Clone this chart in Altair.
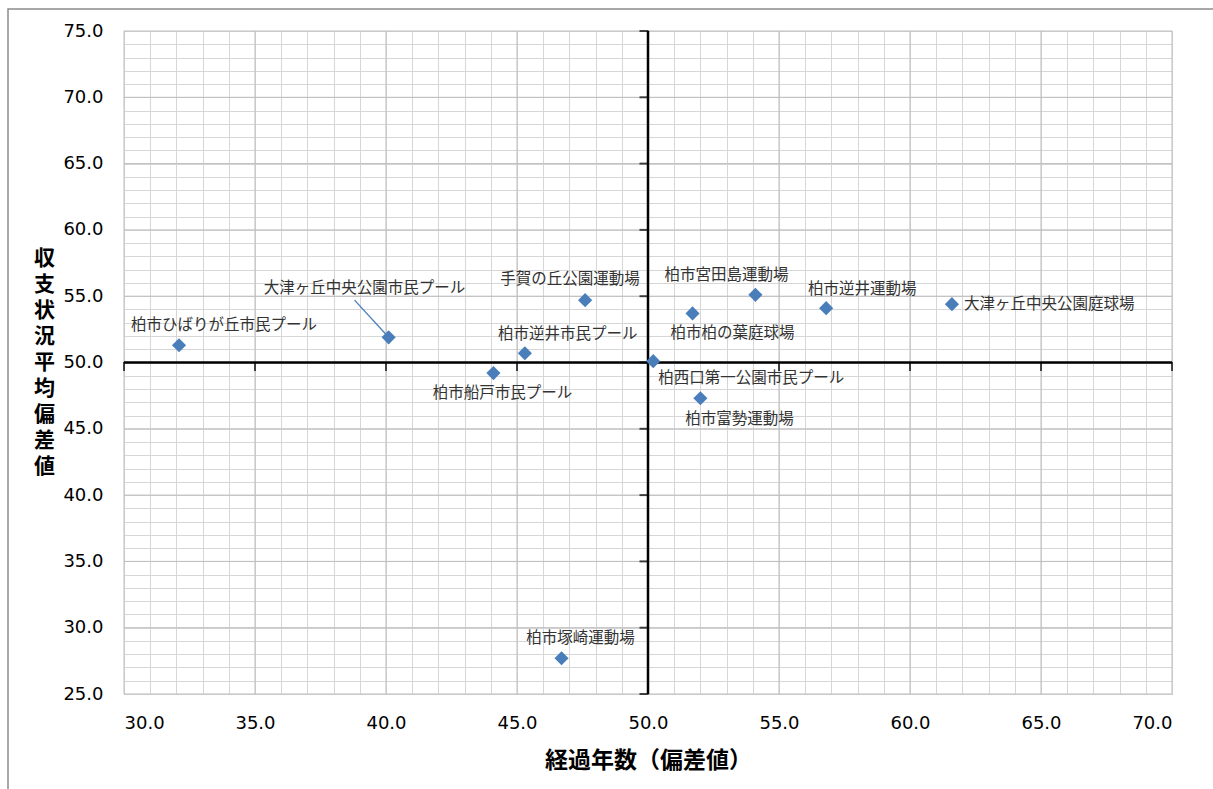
import altair as alt
import pandas as pd

# ---- data ----
names = [
    "柏市ひばりが丘市民プール",
    "大津ヶ丘中央公園市民プール",
    "柏市船戸市民プール",
    "柏市逆井市民プール",
    "手賀の丘公園運動場",
    "柏西口第一公園市民プール",
    "柏市柏の葉庭球場",
    "柏市富勢運動場",
    "柏市宮田島運動場",
    "柏市逆井運動場",
    "大津ヶ丘中央公園庭球場",
    "柏市塚崎運動場",
]
years_dev = [32.1, 40.1, 44.1, 45.3, 47.6, 50.2, 51.7, 52.0, 54.1, 56.8, 61.6, 46.7]
balance_dev = [51.3, 51.9, 49.2, 50.7, 54.7, 50.1, 53.7, 47.3, 55.1, 54.1, 54.4, 27.7]

x_ticks = [30, 35, 40, 45, 50, 55, 60, 65, 70]
y_ticks = [25, 30, 35, 40, 45, 50, 55, 60, 65, 70, 75]
x_minor = list(range(30, 71))
y_minor = list(range(25, 76))

# leader line of one label (data units)
leader_name = ["大津ヶ丘中央公園市民プール"]
leader_x2 = [38.8]
leader_y2 = [54.7]

# ---- styles ----
label_style = {
    "柏市ひばりが丘市民プール": (-48, -20, "left"),
    "大津ヶ丘中央公園市民プール": (-24, -49, "center"),
    "柏市船戸市民プール": (9, 20, "center"),
    "柏市逆井市民プール": (43, -19, "center"),
    "手賀の丘公園運動場": (-15, -21, "center"),
    "柏西口第一公園市民プール": (5, 17, "left"),
    "柏市柏の葉庭球場": (40, 20, "center"),
    "柏市富勢運動場": (39, 21, "center"),
    "柏市宮田島運動場": (-29, -20, "center"),
    "柏市逆井運動場": (36, -19, "center"),
    "大津ヶ丘中央公園庭球場": (12, 0, "left"),
    "柏市塚崎運動場": (19, -20, "center"),
}

df = pd.DataFrame({"name": names, "x": years_dev, "y": balance_dev})
lead_df = pd.DataFrame({"name": leader_name, "x2": leader_x2, "y2": leader_y2}).merge(df, on="name")
xt_df = pd.DataFrame({"v": x_ticks})
yt_df = pd.DataFrame({"v": y_ticks})
cross_df = pd.DataFrame({"v": [50]})

xs = alt.Scale(domain=[30, 70], nice=False, zero=False)
ys = alt.Scale(domain=[25, 75], nice=False, zero=False)

MARK_COLOR = "#4a7ebb"
LABEL_FONT = "Noto Sans CJK JP"
MINOR_GRID = "#d6d6d6"
MAJOR_GRID = "#bdbdbd"

x_axis = alt.Axis(
    values=x_minor,
    labelExpr="datum.value % 5 == 0 ? format(datum.value, '.1f') : ''",
    grid=True, gridColor=MINOR_GRID, gridWidth=1,
    ticks=False, domain=False,
    labelFont="DejaVu Sans", labelFontSize=18, labelColor="#000000", labelPadding=20,
    title="経過年数（偏差値）", titleFont=LABEL_FONT, titleFontSize=23, titleFontWeight="bold",
    titleColor="#000000", titleX=524, titleY=66, titleBaseline="middle",
)
y_axis = alt.Axis(
    values=y_minor,
    labelExpr="datum.value % 5 == 0 ? format(datum.value, '.1f') : ''",
    grid=True, gridColor=MINOR_GRID, gridWidth=1,
    ticks=False, domain=False,
    labelFont="DejaVu Sans", labelFontSize=18, labelColor="#000000", labelPadding=21,
    title=list("収支状況平均偏差値"), titleFont=LABEL_FONT, titleFontSize=21, titleFontWeight="bold",
    titleColor="#000000", titleAngle=0, titleX=-80, titleY=227, titleBaseline="middle",
    titleAlign="center", titleLineHeight=26,
)

X = lambda f: alt.X(f, type="quantitative", scale=xs, axis=x_axis)
Y = lambda f: alt.Y(f, type="quantitative", scale=ys, axis=y_axis)

points = alt.Chart(df).mark_point(shape="diamond", filled=True, size=200, color=MARK_COLOR, opacity=1).encode(
    x=X("x"), y=Y("y"),
)

xmajor = alt.Chart(xt_df).mark_rule(color=MAJOR_GRID, strokeWidth=1).encode(x=X("v"))
ymajor = alt.Chart(yt_df).mark_rule(color=MAJOR_GRID, strokeWidth=1).encode(y=Y("v"))

vline = alt.Chart(cross_df).mark_rule(color="#000000", strokeWidth=2.5).encode(x=X("v"))
hline = alt.Chart(cross_df).mark_rule(color="#000000", strokeWidth=2.5).encode(y=Y("v"))

xticks = alt.Chart(xt_df).transform_calculate(c="50").mark_tick(
    orient="vertical", color="#000000", thickness=2, size=9, yOffset=4
).encode(x=X("v"), y=Y("c"))
yticks = alt.Chart(yt_df).transform_calculate(c="50").mark_tick(
    orient="horizontal", color="#000000", thickness=2, size=9, xOffset=-4
).encode(y=Y("v"), x=X("c"))

leader = alt.Chart(lead_df).mark_rule(color=MARK_COLOR, strokeWidth=1.3).encode(
    x=X("x"), y=Y("y"), x2="x2:Q", y2="y2:Q",
)

frame = alt.Chart(cross_df).mark_rect(fill=None, stroke="#8c8c8c", strokeWidth=1.5).encode(
    x=alt.value(-116), x2=alt.value(1200), y=alt.value(-22), y2=alt.value(800)
)

label_layers = []
for n in names:
    dx, dy, align = label_style[n]
    label_layers.append(
        alt.Chart(df).transform_filter(alt.datum.name == n).mark_text(
            font=LABEL_FONT, fontSize=15.5, color="#333333", dx=dx, dy=dy, align=align, baseline="middle"
        ).encode(x=X("x"), y=Y("y"), text="name:N")
    )

chart = alt.layer(
    xmajor, ymajor, vline, hline, xticks, yticks, leader, *label_layers, points, frame
).properties(
    width=1048, height=663,
    autosize=alt.AutoSizeParams(type="none"),
    padding={"left": 124, "top": 31, "right": 41, "bottom": 95},
    background="#ffffff",
).configure_view(stroke="#b0b0b0", strokeWidth=1)

chart.save("out.html", embed_options={"renderer": "svg", "actions": False})
